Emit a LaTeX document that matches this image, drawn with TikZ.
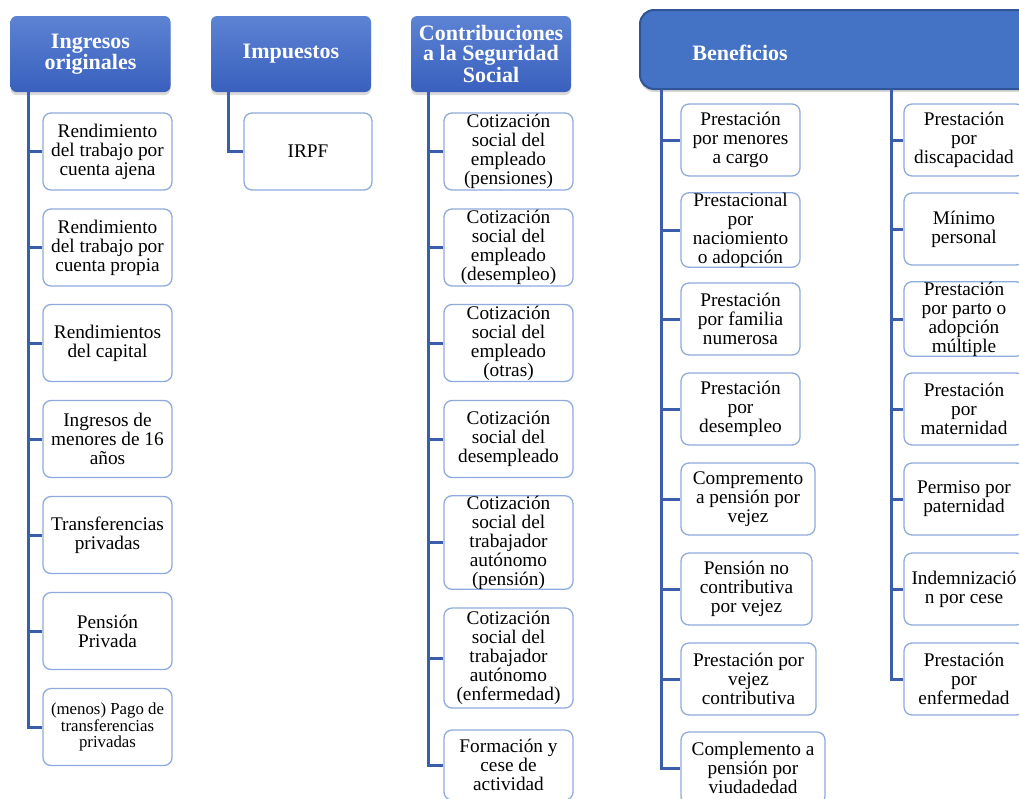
\documentclass[tikz,border=0pt]{standalone}
\usepackage{fontspec}
\setmainfont{Liberation Serif}
\usetikzlibrary{positioning,shadows}
\definecolor{cabarriba}{HTML}{5C83D3}
\definecolor{cababajo}{HTML}{3960BD}
\definecolor{azul}{HTML}{4472C4}
\definecolor{azuloscuro}{HTML}{2F5597}
\definecolor{borde}{HTML}{8FAADC}
\definecolor{tronco}{HTML}{3B5EAA}
\begin{document}
\begin{tikzpicture}[x=1pt,y=-1pt,
  cabecera/.style={rounded corners=6pt,top color=cabarriba,bottom color=cababajo,text=white,font=\bfseries\fontsize{22}{20}\selectfont,align=center,inner sep=0pt,minimum width=160pt,minimum height=76pt,drop shadow={opacity=0.3,shadow xshift=0pt,shadow yshift=-3pt}},
  hoja/.style={draw=borde,line width=1.3pt,rounded corners=8pt,fill=white,align=center,inner sep=0pt,minimum height=72pt,font=\fontsize{19.3}{19}\selectfont},
  rama/.style={draw=tronco,line width=3pt}]
  \useasboundingbox (0,0) rectangle (1019,798);
  \clip (0,0) rectangle (1019,798);

  \node[cabecera] (A) at (90.5,54) {Ingresos\\originales};
  \node[cabecera] (B) at (291,54) {Impuestos};
  \node[cabecera] (C) at (491,54) {Contribuciones\\a la Seguridad\\Social};
  \node[draw=azuloscuro,fill=azul,line width=2pt,rounded corners=14pt,minimum width=395pt,minimum height=79pt,inner sep=0pt,drop shadow={opacity=0.3,shadow xshift=0pt,shadow yshift=-3pt}] (D) at (837.5,49.5) {};
  \node[text=white,font=\bfseries\fontsize{22}{20}\selectfont] (Dt) at (740,53) {Beneficios};

  \coordinate (ta) at (28,92);
  \coordinate (tb) at (228,92);
  \coordinate (tc) at (428,92);
  \coordinate (td) at (661,89);
  \coordinate (te) at (891,89);

  \node[hoja,minimum width=129pt,minimum height=77pt] (a1) at (107.5,151.5) {Rendimiento\\del trabajo por\\cuenta ajena};
  \node[hoja,minimum width=129pt,minimum height=77pt] (a2) at (107.5,247.5) {Rendimiento\\del trabajo por\\cuenta propia};
  \node[hoja,minimum width=129pt,minimum height=77pt] (a3) at (107.5,343) {Rendimientos\\del capital};
  \node[hoja,minimum width=129pt,minimum height=77pt] (a4) at (107.5,439) {Ingresos de\\menores de 16\\años};
  \node[hoja,minimum width=129pt,minimum height=77pt] (a5) at (107.5,535) {Transferencias\\privadas};
  \node[hoja,minimum width=129pt,minimum height=77pt] (a6) at (107.5,631) {Pensión\\Privada};
  \node[hoja,minimum width=129pt,minimum height=77pt,font=\fontsize{16.8}{16.5}\selectfont] (a7) at (107.5,727) {(menos) Pago de\\transferencias\\privadas};

  \node[hoja,minimum width=128pt,minimum height=77pt] (b1) at (308,151.5) {IRPF};

  \node[hoja,minimum width=129pt,minimum height=77pt] (c1) at (508.5,151.5) {Cotización\\social del\\empleado\\(pensiones)};
  \node[hoja,minimum width=129pt,minimum height=77pt] (c2) at (508.5,247.5) {Cotización\\social del\\empleado\\(desempleo)};
  \node[hoja,minimum width=129pt,minimum height=77pt] (c3) at (508.5,343) {Cotización\\social del\\empleado\\(otras)};
  \node[hoja,minimum width=129pt,minimum height=77pt] (c4) at (508.5,439) {Cotización\\social del\\desempleado};
  \node[hoja,minimum width=129pt,minimum height=91pt] (c5) at (508.5,542.5) {Cotización\\social del\\trabajador\\autónomo\\(pensión)};
  \node[hoja,minimum width=129pt,minimum height=100pt] (c6) at (508.5,658) {Cotización\\social del\\trabajador\\autónomo\\(enfermedad)};
  \node[hoja,minimum width=129pt,minimum height=70pt] (c7) at (508.5,765) {Formación y\\cese de\\actividad};

  \node[hoja,minimum width=119pt] (d1) at (740.5,140) {Prestación\\por menores\\a cargo};
  \node[hoja,minimum width=119pt] (d2) at (740.5,230) {Prestacional\\por\\naciomiento\\o adopción};
  \node[hoja,minimum width=119pt] (d3) at (740.5,319) {Prestación\\por familia\\numerosa};
  \node[hoja,minimum width=119pt] (d4) at (740.5,409) {Prestación\\por\\desempleo};
  \node[hoja,minimum width=134pt] (d5) at (748,499) {Compremento\\a pensión por\\vejez};
  \node[hoja,minimum width=131pt] (d6) at (746.5,589) {Pensión no\\contributiva\\por vejez};
  \node[hoja,minimum width=135pt] (d7) at (748.5,679) {Prestación por\\vejez\\contributiva};
  \node[hoja,minimum width=144pt] (d8) at (753,768) {Complemento a\\pensión por\\viudadedad};

  \node[hoja,minimum width=120pt] (e1) at (964,140) {Prestación\\por\\discapacidad};
  \node[hoja,minimum width=120pt] (e2) at (964,229) {Mínimo\\personal};
  \node[hoja,minimum width=120pt] (e3) at (964,319) {Prestación\\por parto o\\adopción\\múltiple};
  \node[hoja,minimum width=120pt] (e4) at (964,409) {Prestación\\por\\maternidad};
  \node[hoja,minimum width=120pt] (e5) at (964,499) {Permiso por\\paternidad};
  \node[hoja,minimum width=120pt] (e6) at (964,589) {Indemnizació\\n por cese};
  \node[hoja,minimum width=120pt] (e7) at (964,679) {Prestación\\por\\enfermedad};

  \foreach \n in {a1,a2,a3,a4,a5,a6,a7} \draw[rama] (ta) |- (\n.west);
  \draw[rama] (tb) |- (b1.west);
  \foreach \n in {c1,c2,c3,c4,c5,c6,c7} \draw[rama] (tc) |- (\n.west);
  \foreach \n in {d1,d2,d3,d4,d5,d6,d7,d8} \draw[rama] (td) |- (\n.west);
  \foreach \n in {e1,e2,e3,e4,e5,e6,e7} \draw[rama] (te) |- (\n.west);
\end{tikzpicture}
\end{document}
